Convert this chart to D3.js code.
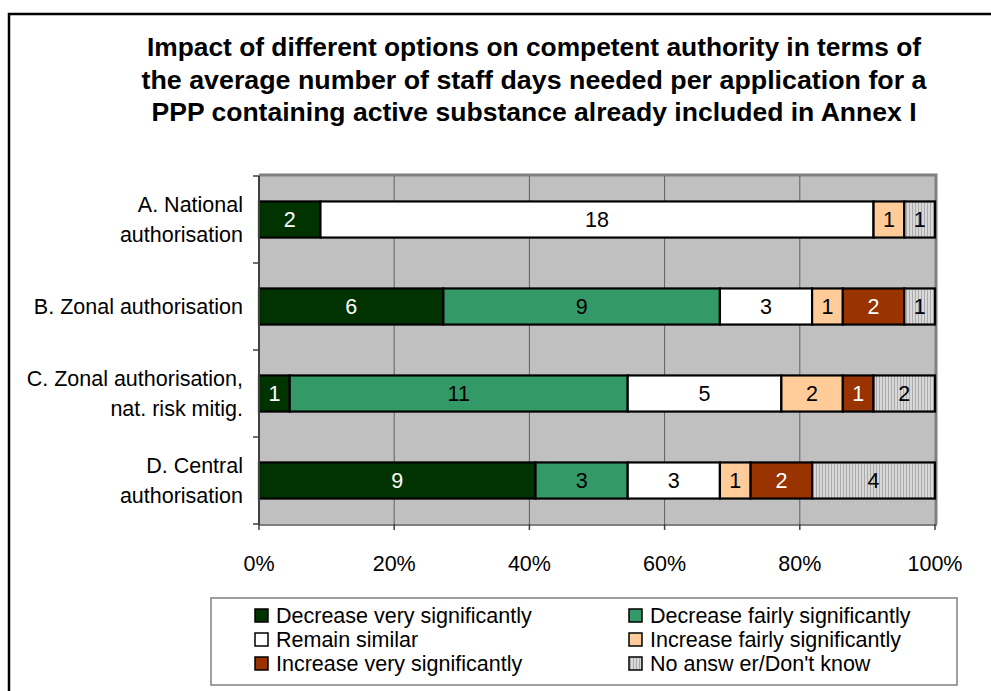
<!DOCTYPE html>
<html><head><meta charset="utf-8">
<script src="https://cdn.jsdelivr.net/npm/d3@7"></script>
<style>body{margin:0;background:#fff}svg{display:block;font-family:Arial,"Liberation Sans",sans-serif}</style>
</head><body><svg id="c" width="991" height="691"></svg>
<script>
const categories = [["A. National","authorisation"],["B. Zonal authorisation"],["C. Zonal authorisation,","nat. risk mitig."],["D. Central","authorisation"]];
const seriesNames = ["Decrease very significantly","Decrease fairly significantly","Remain similar","Increase fairly significantly","Increase very significantly","No answ er/Don't know"];
const decVery = [2,6,1,9];
const decFair = [0,9,11,3];
const remain = [18,3,5,3];
const incFair = [1,1,2,1];
const incVery = [0,2,1,2];
const noAnswer = [1,1,2,4];
const tickValues = [0,0.2,0.4,0.6,0.8,1];
const titleLines = ["Impact of different options on competent authority in terms of","the average number of staff days needed per application for a","PPP containing active substance already included in Annex I"];

const colors = ["#003300","#339966","#ffffff","#ffcc99","#993300","url(#hatch)"];
const textColors = ["#fff","#000","#000","#000","#fff","#000"];
const series = [decVery,decFair,remain,incFair,incVery,noAnswer];
const FS = 21.5;

const svg = d3.select("#c");
const defs = svg.append("defs");
const pat = defs.append("pattern").attr("id","hatch").attr("patternUnits","userSpaceOnUse").attr("width",3).attr("height",3);
pat.append("rect").attr("width",3).attr("height",3).attr("fill","#d8d8d8");
pat.append("rect").attr("width",1).attr("height",3).attr("fill","#ababab");

// outer frame
svg.append("rect").attr("x",9).attr("y",14).attr("width",1000).attr("height",700).attr("fill","#fff").attr("stroke","#000").attr("stroke-width",2.5);

// title
const titleW=[774,785,765];
svg.append("g").selectAll("text").data(titleLines).join("text")
  .attr("x",534).attr("y",(d,i)=>56+i*32.5).attr("text-anchor","middle")
  .attr("font-size",25.5).attr("font-weight","bold").attr("fill","#000")
  .attr("textLength",(d,i)=>titleW[i]).attr("lengthAdjust","spacingAndGlyphs").text(d=>d);

const L=259,R=935,T=176,B=524;
const x = d3.scaleLinear().domain([0,1]).range([L,R]);
const y = d3.scaleBand().domain(d3.range(categories.length)).range([T,B]).paddingInner(0.585).paddingOuter(0.2925);

// plot area
svg.append("rect").attr("x",L).attr("y",T).attr("width",R-L).attr("height",B-T).attr("fill","#c0c0c0");
svg.append("path").attr("d",`M${L},${T-1}H${R+1}V${B}`).attr("fill","none").attr("stroke","#808080").attr("stroke-width",3);
svg.append("line").attr("x1",L).attr("x2",R+2).attr("y1",B+1).attr("y2",B+1).attr("stroke","#808080").attr("stroke-width",2);

// gridlines
svg.append("g").selectAll("line").data(tickValues.slice(1,-1)).join("line")
  .attr("x1",d=>x(d)).attr("x2",d=>x(d)).attr("y1",T).attr("y2",B).attr("stroke","#606060").attr("stroke-width",1);

// stack
const totals = categories.map((c,i)=>d3.sum(series,s=>s[i]));
const segs=[];
categories.forEach((c,i)=>{let acc=0;series.forEach((s,k)=>{const v=s[i];if(v>0){segs.push({i,k,v,x0:acc/totals[i],x1:(acc+v)/totals[i]});}acc+=v;});});
const bars = svg.append("g");
bars.selectAll("rect").data(segs).join("rect")
  .attr("x",d=>x(d.x0)).attr("y",d=>y(d.i)).attr("width",d=>x(d.x1)-x(d.x0)).attr("height",y.bandwidth())
  .attr("fill",d=>colors[d.k]).attr("stroke","#000").attr("stroke-width",2.2);
bars.selectAll("text").data(segs).join("text")
  .attr("x",d=>(x(d.x0)+x(d.x1))/2).attr("y",d=>y(d.i)+y.bandwidth()/2+7.5).attr("text-anchor","middle")
  .attr("font-size",FS).attr("fill",d=>textColors[d.k]).text(d=>d.v);

// y axis
const yAxis = svg.append("g");
yAxis.append("line").attr("x1",L).attr("x2",L).attr("y1",T).attr("y2",B+1).attr("stroke","#404040").attr("stroke-width",2);
const bounds = d3.range(categories.length+1).map(i=>T+i*(B-T)/categories.length);
yAxis.selectAll("line.t").data(bounds).join("line").attr("class","t")
  .attr("x1",L-6).attr("x2",L).attr("y1",d=>d).attr("y2",d=>d).attr("stroke","#404040").attr("stroke-width",1.5);
categories.forEach((lines,i)=>{
  const cy=y(i)+y.bandwidth()/2;
  const n=lines.length;
  lines.forEach((ln,j)=>{
    svg.append("text").attr("x",243).attr("y",cy+7.5+(j-(n-1)/2)*30).attr("text-anchor","end").attr("font-size",FS).attr("fill","#000").text(ln);
  });
});

// x axis
const xAxis = svg.append("g");
xAxis.selectAll("line").data(tickValues).join("line").attr("x1",d=>x(d)).attr("x2",d=>x(d)).attr("y1",B).attr("y2",B+6).attr("stroke","#404040").attr("stroke-width",1.5);
xAxis.selectAll("text").data(tickValues).join("text").attr("x",d=>x(d)).attr("y",571).attr("text-anchor","middle").attr("font-size",FS).attr("fill","#000").text(d=>d3.format(".0%")(d));

// legend
const lg = svg.append("g");
lg.append("rect").attr("x",211).attr("y",598).attr("width",746).attr("height",87).attr("fill","#fff").attr("stroke","#808080").attr("stroke-width",1.5);
seriesNames.forEach((nm,k)=>{
  const col=k%2,row=Math.floor(k/2);
  const sx = col===0?255:629, sy=609+row*24;
  lg.append("rect").attr("x",sx).attr("y",sy).attr("width",13).attr("height",13).attr("fill",colors[k]).attr("stroke","#000").attr("stroke-width",1.5);
  lg.append("text").attr("x",sx+21).attr("y",sy+14).attr("font-size",FS).attr("fill","#000").text(nm);
});
</script></body></html>
